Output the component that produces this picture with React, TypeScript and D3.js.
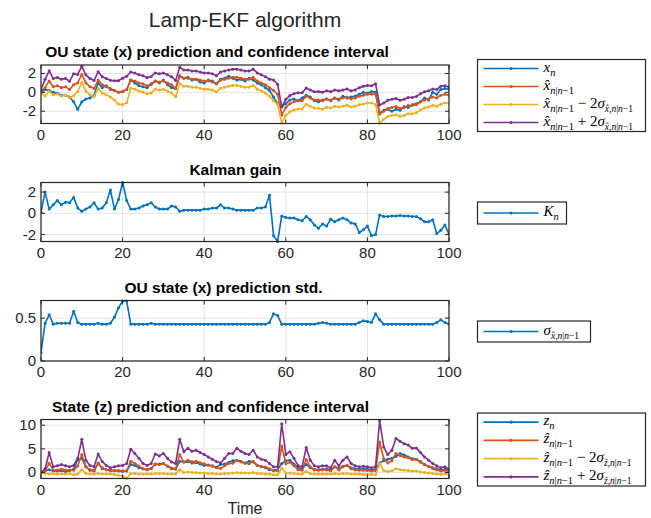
import * as d3 from 'd3'

// time steps 0..100
const steps = d3.range(0, 101)

// OU state x_n
const xTrue = [0.0, 0.3, 0.2, 0.0, -0.1, -0.3, -0.3, -0.5, -1.0, -1.8, -1.0, -0.7, -0.6, -0.3, 1.0, 0.5, 0.7, 0.3, 0.2, 0.0,
  0.1, 0.3, 1.3, 1.0, 0.7, 0.6, 0.5, 0.9, 1.2, 1.0, 1.3, 0.8, 0.5, 0.4, 1.7, 1.5, 1.6, 1.3, 1.4, 1.1,
  1.0, 1.3, 1.2, 0.9, 1.4, 1.5, 1.7, 1.5, 1.3, 1.4, 1.2, 1.5, 1.3, 1.0, 0.8, 0.5, 0.2, -0.5, -1.2, -1.5,
  -1.2, -0.8, -0.7, -0.9, -0.6, -0.3, -0.5, -0.9, -1.0, -0.8, -0.7, -0.9, -0.6, -0.8, -0.4, -0.6, -0.5, -0.4, -0.2, 0.0,
  -0.1, 0.1, 0.0, -2.2, -1.9, -1.8, -2.0, -1.8, -1.9, -1.5, -1.6, -1.3, -1.2, -1.0, -0.6, -0.8, 0.0, -0.2, 0.3, 0.4, 0.3]

// predicted state x^_{n|n-1}
const xPred = [0.1, 0.5, 1.2, 0.6, 0.7, 0.5, 0.6, 0.3, 0.8, 1.0, 1.9, 1.0, 0.6, 0.4, 1.3, 0.8, 0.6, 0.4, 0.2, 0.0,
  0.1, 0.3, 1.3, 1.2, 1.0, 0.9, 0.7, 0.8, 1.2, 1.1, 1.2, 1.0, 0.8, 0.4, 1.8, 1.5, 1.5, 1.4, 1.4, 1.3,
  1.2, 1.2, 1.1, 0.9, 1.3, 1.4, 1.5, 1.6, 1.6, 1.5, 1.4, 1.4, 1.6, 1.2, 1.0, 0.8, 0.5, 0.2, -0.2, -2.4,
  -1.6, -1.2, -1.0, -0.9, -0.9, -0.4, -0.6, -0.8, -0.8, -0.9, -0.7, -0.8, -0.6, -0.7, -0.6, -0.5, -0.7, -0.6, -0.4, -0.3,
  -0.2, -0.2, -0.2, -2.3, -2.0, -1.7, -1.6, -1.5, -1.7, -1.6, -1.4, -1.4, -1.3, -1.0, -0.8, -0.7, -0.5, -0.6, -0.3, -0.2, -0.3]

const xLow = [-0.1, -0.38, 0.12, -0.26, -0.18, -0.38, -0.28, -0.58, -0.36, 0.1, 1.04, 0.14, -0.26, -0.46, 0.42, -0.06, -0.26, -0.48, -0.82, -1.24,
  -1.3, -1.1, 0.44, 0.34, 0.14, 0.04, -0.16, -0.08, 0.34, 0.24, 0.34, 0.14, -0.06, -0.46, 0.94, 0.64, 0.64, 0.54, 0.54, 0.44,
  0.34, 0.34, 0.24, 0.04, 0.44, 0.54, 0.64, 0.74, 0.74, 0.64, 0.54, 0.54, 0.74, 0.34, 0.14, -0.06, -0.4, -0.9, -1.26, -3.26,
  -2.46, -2.06, -1.86, -1.76, -1.76, -1.26, -1.46, -1.66, -1.68, -1.8, -1.58, -1.66, -1.46, -1.56, -1.46, -1.36, -1.56, -1.46, -1.3, -1.24,
  -1.12, -1.1, -1.3, -3.26, -2.86, -2.56, -2.46, -2.36, -2.56, -2.46, -2.26, -2.26, -2.16, -1.86, -1.66, -1.56, -1.36, -1.5, -1.26, -1.1, -1.16]

const xUp = [0.3, 1.38, 2.28, 1.46, 1.58, 1.38, 1.48, 1.18, 1.96, 1.9, 2.76, 1.86, 1.46, 1.26, 2.18, 1.66, 1.46, 1.28, 1.22, 1.24,
  1.5, 1.7, 2.16, 2.06, 1.86, 1.76, 1.56, 1.68, 2.06, 1.96, 2.06, 1.86, 1.66, 1.26, 2.66, 2.36, 2.36, 2.26, 2.26, 2.16,
  2.06, 2.06, 1.96, 1.76, 2.16, 2.26, 2.36, 2.46, 2.46, 2.36, 2.26, 2.26, 2.46, 2.06, 1.86, 1.66, 1.4, 1.3, 0.86, -1.54,
  -0.74, -0.34, -0.14, -0.04, -0.04, 0.46, 0.26, 0.06, 0.08, 0.0, 0.18, 0.06, 0.26, 0.16, 0.26, 0.36, 0.16, 0.26, 0.5, 0.64,
  0.72, 0.7, 0.9, -1.34, -1.14, -0.84, -0.74, -0.64, -0.84, -0.74, -0.54, -0.54, -0.44, -0.14, 0.06, 0.16, 0.36, 0.3, 0.66, 0.7, 0.56]

// Kalman gain K_n
const gainK = [0.1, 2.0, 0.4, 0.8, 1.2, 0.8, 1.05, 1.0, 1.5, 0.5, 0.2, 0.4, 0.6, 1.0, 0.4, 0.5, 1.0, 2.2, 0.4, 1.3,
  2.9, 1.2, 0.4, 0.4, 0.5, 0.7, 0.8, 1.0, 0.6, 0.4, 0.4, 0.4, 0.7, 0.6, 0.2, 0.3, 0.3, 0.3, 0.3, 0.3,
  0.4, 0.4, 0.5, 0.5, 0.8, 0.5, 0.5, 0.4, 0.3, 0.3, 0.3, 0.3, 0.3, 0.5, 0.5, 0.6, 1.7, -2.1, -2.65, -0.25,
  -0.4, -0.45, -0.45, -0.6, -0.7, -0.3, -0.6, -1.1, -1.4, -1.0, -1.2, -0.55, -0.8, -0.6, -0.45, -0.6, -0.9, -1.0, -1.8, -1.55,
  -1.2, -2.1, -2.0, -0.15, -0.3, -0.3, -0.25, -0.25, -0.2, -0.25, -0.25, -0.3, -0.3, -0.5, -0.8, -0.8, -0.6, -1.9, -1.6, -1.1, -1.95]

// prediction std sigma_{x^,n|n-1}
const xStd = [0.1, 0.44, 0.54, 0.43, 0.44, 0.44, 0.44, 0.44, 0.58, 0.45, 0.43, 0.43, 0.43, 0.43, 0.44, 0.43, 0.43, 0.44, 0.51, 0.62,
  0.7, 0.7, 0.43, 0.43, 0.43, 0.43, 0.43, 0.44, 0.43, 0.43, 0.43, 0.43, 0.43, 0.43, 0.43, 0.43, 0.43, 0.43, 0.43, 0.43,
  0.43, 0.43, 0.43, 0.43, 0.43, 0.43, 0.43, 0.43, 0.43, 0.43, 0.43, 0.43, 0.43, 0.43, 0.43, 0.43, 0.45, 0.55, 0.53, 0.43,
  0.43, 0.43, 0.43, 0.43, 0.43, 0.43, 0.43, 0.43, 0.44, 0.45, 0.44, 0.43, 0.43, 0.43, 0.43, 0.43, 0.43, 0.43, 0.45, 0.47,
  0.46, 0.45, 0.55, 0.48, 0.43, 0.43, 0.43, 0.43, 0.43, 0.43, 0.43, 0.43, 0.43, 0.43, 0.43, 0.43, 0.43, 0.45, 0.48, 0.45, 0.43]

// observed state z_n
const zTrue = [0.0, 0.3, 0.6, 0.3, 0.3, 0.4, 0.2, 0.4, 0.7, 2.7, 3.0, 1.2, 0.5, 0.3, 2.0, 0.8, 0.6, 0.5, 0.4, 0.3,
  0.2, 0.3, 1.7, 1.5, 1.0, 0.8, 0.6, 0.9, 1.7, 1.8, 1.9, 1.3, 0.8, 0.7, 2.4, 2.2, 2.3, 2.0, 2.1, 1.8,
  1.5, 1.6, 1.4, 1.1, 1.7, 1.8, 2.1, 2.5, 2.6, 2.3, 2.0, 2.4, 2.2, 1.5, 1.2, 1.0, 0.6, 0.5, 0.6, 1.9,
  2.5, 2.6, 1.8, 1.0, 0.8, 1.7, 1.0, 0.7, 0.6, 0.7, 0.8, 0.6, 1.2, 0.8, 1.3, 1.5, 1.0, 0.8, 0.7, 0.8,
  0.7, 0.6, 0.7, 2.0, 2.5, 2.8, 3.0, 3.4, 4.0, 3.7, 3.3, 2.9, 2.8, 2.3, 1.7, 1.3, 1.0, 0.8, 0.5, 0.7, 0.6]

const zPred = [0.0, 0.3, 1.95, 0.5, 0.55, 0.7, 0.55, 0.5, 0.5, 1.35, 3.8, 1.2, 0.6, 0.45, 1.85, 1.0, 0.6, 0.35, 0.4, 0.4,
  0.35, 0.35, 2.35, 1.9, 1.35, 0.8, 0.6, 0.8, 1.85, 1.65, 1.9, 1.35, 0.95, 0.8, 3.8, 2.2, 2.6, 2.25, 2.35, 2.05,
  1.85, 1.55, 1.3, 1.0, 0.85, 1.4, 1.9, 1.95, 2.55, 2.2, 1.95, 1.85, 2.35, 1.55, 1.3, 1.15, 0.8, 0.35, 0.35, 5.6,
  1.85, 2.15, 1.4, 0.6, 0.45, 2.75, 1.2, 0.55, 0.45, 0.55, 0.55, 0.35, 1.2, 0.55, 1.2, 1.55, 0.8, 0.55, 0.45, 0.45,
  0.4, 0.3, 0.35, 6.45, 2.9, 2.0, 2.5, 4.0, 3.6, 3.3, 3.1, 2.7, 2.75, 2.15, 1.65, 1.25, 0.85, 0.55, 0.3, 0.45, 0.2]

const zLow = [0.0, -0.2, -0.3, -0.2, -0.3, -0.3, -0.3, -0.2, -0.5, -0.3, 0.6, -0.2, -0.3, -0.3, -0.2, -0.3, -0.3, -0.3, -0.4, -0.6,
  -0.8, -1.2, -0.2, -0.2, -0.3, -0.3, -0.3, -0.3, -0.2, -0.2, -0.2, -0.3, -0.3, -0.3, 0.6, 0.0, 0.1, 0.0, 0.0, -0.1,
  -0.1, -0.2, -0.2, -0.3, -0.3, -0.2, -0.2, -0.1, 0.0, -0.1, -0.1, -0.1, 0.0, -0.2, -0.2, -0.3, -0.3, -0.5, -0.5, 0.9,
  -0.1, -0.1, -0.2, -0.3, -0.3, 0.2, -0.2, -0.3, -0.3, -0.3, -0.3, -0.3, -0.2, -0.3, -0.2, -0.2, -0.3, -0.3, -0.3, -0.4,
  -0.4, -0.4, -0.5, 1.9, 0.4, 0.2, 0.3, 0.8, 0.6, 0.5, 0.4, 0.3, 0.3, 0.1, 0.0, -0.1, -0.2, -0.3, -0.4, -0.3, -0.3]

const zUp = [0.0, 0.8, 4.2, 1.2, 1.4, 1.7, 1.4, 1.2, 1.5, 3.0, 7.0, 2.6, 1.5, 1.2, 3.9, 2.3, 1.5, 1.0, 1.2, 1.4,
  1.5, 1.9, 4.9, 4.0, 3.0, 1.9, 1.5, 1.9, 3.9, 3.5, 4.0, 3.0, 2.2, 1.9, 7.0, 4.4, 5.1, 4.5, 4.7, 4.2,
  3.8, 3.3, 2.8, 2.3, 2.0, 3.0, 4.0, 4.0, 5.1, 4.5, 4.0, 3.8, 4.7, 3.3, 2.8, 2.6, 1.9, 1.2, 1.2, 10.3,
  3.8, 4.4, 3.0, 1.5, 1.2, 5.3, 2.6, 1.4, 1.2, 1.4, 1.4, 1.0, 2.6, 1.4, 2.6, 3.3, 1.9, 1.4, 1.2, 1.3,
  1.2, 1.0, 1.2, 11.0, 5.4, 3.8, 4.7, 7.2, 6.6, 6.1, 5.8, 5.1, 5.2, 4.2, 3.3, 2.6, 1.9, 1.4, 1.0, 1.2, 0.7]

const xTicks = [0, 20, 40, 60, 80, 100]

const BLUE = '#0072BD'
const ORANGE = '#D95319'
const YELLOW = '#EDB120'
const PURPLE = '#7E2F8E'

const AX = '#262626'
const GRID = '#e3e3e3'
const SANS = 'Helvetica, "Liberation Sans", Arial, sans-serif'
const SERIF = '"Liberation Serif", "DejaVu Serif", serif'

const X0 = 41
const X1 = 449

interface Series {
  values: number[]
  color: string
}

interface PanelProps {
  top: number
  bottom: number
  domain: [number, number]
  yTicks: number[]
  title: string
  titleX: number
  series: Series[]
}

function Panel({ top, bottom, domain, yTicks, title, titleX, series }: PanelProps) {
  const x = d3.scaleLinear().domain([0, 100]).range([X0, X1])
  const y = d3.scaleLinear().domain(domain).range([bottom, top])
  const line = d3
    .line<number>()
    .x((_, i) => x(steps[i]))
    .y((d) => y(d))
  const clipId = `clip-${top}`
  const tick = 4

  return (
    <g>
      <defs>
        <clipPath id={clipId}>
          <rect x={X0} y={top - 2} width={X1 - X0} height={bottom - top + 4} />
        </clipPath>
      </defs>
      <rect x={X0} y={top} width={X1 - X0} height={bottom - top} fill="#fff" />
      {/* grid */}
      {xTicks.map((t) => (
        <line key={'gx' + t} x1={x(t)} x2={x(t)} y1={top} y2={bottom} stroke={GRID} strokeWidth={1} />
      ))}
      {yTicks.map((t) => (
        <line key={'gy' + t} x1={X0} x2={X1} y1={y(t)} y2={y(t)} stroke={GRID} strokeWidth={1} />
      ))}
      {/* data */}
      <g clipPath={`url(#${clipId})`}>
        {series.map((s, k) => (
          <g key={k}>
            <path d={line(s.values) || ''} fill="none" stroke={s.color} strokeWidth={1.6} strokeLinejoin="round" />
            {s.values.map((v, i) => (
              <circle key={i} cx={x(steps[i])} cy={y(v)} r={1.5} fill={s.color} />
            ))}
          </g>
        ))}
      </g>
      {/* box */}
      <rect x={X0} y={top} width={X1 - X0} height={bottom - top} fill="none" stroke={AX} strokeWidth={1.2} />
      {xTicks.map((t) => (
        <g key={'tx' + t}>
          <line x1={x(t)} x2={x(t)} y1={bottom} y2={bottom - tick} stroke={AX} />
          <line x1={x(t)} x2={x(t)} y1={top} y2={top + tick} stroke={AX} />
          <text x={x(t)} y={bottom + 16} textAnchor="middle" fontSize={15} fill={AX} fontFamily={SANS}>
            {t}
          </text>
        </g>
      ))}
      {yTicks.map((t) => (
        <g key={'ty' + t}>
          <line x1={X0} x2={X0 + tick} y1={y(t)} y2={y(t)} stroke={AX} />
          <line x1={X1} x2={X1 - tick} y1={y(t)} y2={y(t)} stroke={AX} />
          <text x={X0 - 5} y={y(t) + 5} textAnchor="end" fontSize={15} fill={AX} fontFamily={SANS}>
            {String(t)}
          </text>
        </g>
      ))}
      <text x={titleX} y={top - 8} textAnchor="middle" fontSize={15.5} fontWeight="bold" fill="#000" fontFamily={SANS}>
        {title}
      </text>
    </g>
  )
}

// math label helpers
const MAIN = 15
const SUB = 10.5
const SUB2 = 9.5

const Sub = ({ children, size = SUB }: { children: any; size?: number }) => (
  <tspan fontSize={size} dy={4}>
    {children}
  </tspan>
)

function hatLabel(v: string, extra: '' | '-' | '+', sigVar: string) {
  return (
    <>
      <tspan fontStyle="italic">{v + '\u0302'}</tspan>
      <tspan fontSize={SUB} dy={4}>
        <tspan fontStyle="italic">n</tspan>|<tspan fontStyle="italic">n</tspan>−1
      </tspan>
      {extra && (
        <>
          <tspan dy={-4}>{extra === '-' ? ' − 2' : ' + 2'}</tspan>
          <tspan fontStyle="italic">σ</tspan>
          <tspan fontSize={SUB2} dy={4}>
            <tspan fontStyle="italic">{sigVar + '\u0302'}</tspan>,<tspan fontStyle="italic">n</tspan>|
            <tspan fontStyle="italic">n</tspan>−1
          </tspan>
        </>
      )}
    </>
  )
}

interface LegendEntry {
  color: string
  label: any
}

function Legend({ x, y, w, h, entries }: { x: number; y: number; w: number; h: number; entries: LegendEntry[] }) {
  const rowH = h / entries.length
  return (
    <g>
      <rect x={x} y={y} width={w} height={h} fill="#fff" stroke={AX} strokeWidth={1.2} />
      {entries.map((e, i) => {
        const cy = y + rowH * (i + 0.5)
        return (
          <g key={i}>
            <line x1={x + 6} x2={x + 61} y1={cy} y2={cy} stroke={e.color} strokeWidth={1.6} />
            <circle cx={x + 33.5} cy={cy} r={1.6} fill={e.color} />
            <text x={x + 66} y={cy + 3} fontSize={MAIN} fontFamily={SERIF} fill="#000">
              {e.label}
            </text>
          </g>
        )
      })}
    </g>
  )
}

export default function App() {
  return (
    <svg width={651} height={518} style={{ position: 'absolute', left: 0, top: 0, background: '#fff' }}>
      <rect width={651} height={518} fill="#fff" />
      <text x={245} y={27} textAnchor="middle" fontSize={21} fill={AX} fontFamily={SANS}>
        Lamp-EKF algorithm
      </text>

      <Panel
        top={65}
        bottom={123.5}
        domain={[-3.3, 2.9]}
        yTicks={[-2, 0, 2]}
        title="OU state (x) prediction and confidence interval"
        titleX={217}
        series={[
          { values: xTrue, color: BLUE },
          { values: xPred, color: ORANGE },
          { values: xLow, color: YELLOW },
          { values: xUp, color: PURPLE },
        ]}
      />
      <Panel
        top={182.5}
        bottom={241.5}
        domain={[-2.65, 2.9]}
        yTicks={[-2, 0, 2]}
        title="Kalman gain"
        titleX={235.5}
        series={[{ values: gainK, color: BLUE }]}
      />
      <Panel
        top={300.5}
        bottom={361}
        domain={[0, 0.706]}
        yTicks={[0, 0.5]}
        title="OU state (x) prediction std."
        titleX={223.5}
        series={[{ values: xStd, color: BLUE }]}
      />
      <Panel
        top={419.5}
        bottom={478.5}
        domain={[-1.27, 11.2]}
        yTicks={[0, 5, 10]}
        title="State (z) prediction and confidence interval"
        titleX={210.5}
        series={[
          { values: zTrue, color: BLUE },
          { values: zPred, color: ORANGE },
          { values: zLow, color: YELLOW },
          { values: zUp, color: PURPLE },
        ]}
      />
      <text x={245} y={514} textAnchor="middle" fontSize={16} fill={AX} fontFamily={SANS}>
        Time
      </text>

      <Legend
        x={477.5}
        y={59.5}
        w={168}
        h={72}
        entries={[
          {
            color: BLUE,
            label: (
              <>
                <tspan fontStyle="italic">x</tspan>
                <Sub>
                  <tspan fontStyle="italic">n</tspan>
                </Sub>
              </>
            ),
          },
          { color: ORANGE, label: hatLabel('x', '', 'x') },
          { color: YELLOW, label: hatLabel('x', '-', 'x') },
          { color: PURPLE, label: hatLabel('x', '+', 'x') },
        ]}
      />
      <Legend
        x={477.5}
        y={202}
        w={89}
        h={22}
        entries={[
          {
            color: BLUE,
            label: (
              <>
                <tspan fontStyle="italic">K</tspan>
                <Sub>
                  <tspan fontStyle="italic">n</tspan>
                </Sub>
              </>
            ),
          },
        ]}
      />
      <Legend
        x={477.5}
        y={321}
        w={113}
        h={21}
        entries={[
          {
            color: BLUE,
            label: (
              <>
                <tspan fontStyle="italic">σ</tspan>
                <Sub size={SUB2}>
                  <tspan fontStyle="italic">{'x\u0302'}</tspan>,<tspan fontStyle="italic">n</tspan>|
                  <tspan fontStyle="italic">n</tspan>−1
                </Sub>
              </>
            ),
          },
        ]}
      />
      <Legend
        x={477.5}
        y={413}
        w={168}
        h={73}
        entries={[
          {
            color: BLUE,
            label: (
              <>
                <tspan fontStyle="italic">z</tspan>
                <Sub>
                  <tspan fontStyle="italic">n</tspan>
                </Sub>
              </>
            ),
          },
          { color: ORANGE, label: hatLabel('z', '', 'z') },
          { color: YELLOW, label: hatLabel('z', '-', 'z') },
          { color: PURPLE, label: hatLabel('z', '+', 'z') },
        ]}
      />
    </svg>
  )
}
